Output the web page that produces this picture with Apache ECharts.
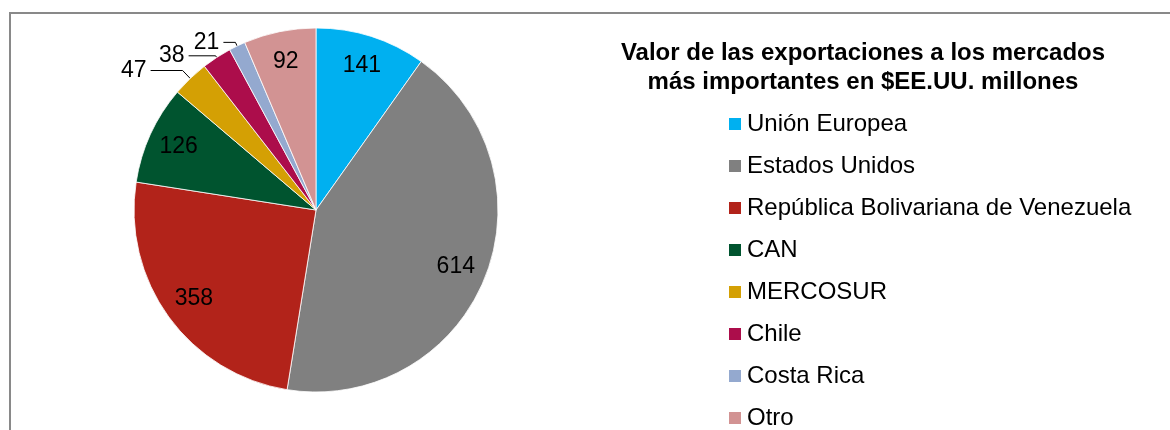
<!DOCTYPE html>
<html>
<head>
<meta charset="utf-8">
<script src="https://cdn.jsdelivr.net/npm/echarts@6/dist/echarts.min.js"></script>
<style>
  html, body { margin: 0; padding: 0; background: #fff; }
  #chart { width: 1170px; height: 430px; }
</style>
</head>
<body>
<div id="chart"></div>
<script>
// mercados y valores (millones de US$)
var mercados = ['Unión Europea', 'Estados Unidos', 'República Bolivariana de Venezuela', 'CAN', 'MERCOSUR', 'Chile', 'Costa Rica', 'Otro'];
var valores = [141, 614, 358, 126, 47, 38, 21, 92];
var colores = ['#00B0F0', '#808080', '#B2231A', '#00542F', '#D4A004', '#AC0D4B', '#94A9CF', '#D29393'];
// las porciones chicas llevan la etiqueta afuera con línea guía
var etiquetaAfuera = ['MERCOSUR', 'Chile', 'Costa Rica'];

// largo de las líneas guía (tramo radial, tramo horizontal)
var guias = {
  'MERCOSUR': [11, 32],
  'Chile': [2, 27],
  'Costa Rica': [4, 12]
};

var myChart = echarts.init(document.getElementById('chart'));

var fuente = 'Liberation Sans, Arial, sans-serif';

// pie visible, solo etiquetas externas
var datosPie = mercados.map(function (m, i) {
  var afuera = etiquetaAfuera.indexOf(m) >= 0;
  var item = {
    name: m,
    value: valores[i],
    itemStyle: { color: colores[i] },
    label: { show: afuera },
    labelLine: { show: afuera }
  };
  if (afuera) {
    item.labelLine.length = guias[m][0];
    item.labelLine.length2 = guias[m][1];
  }
  return item;
});

// anillo transparente para ubicar las etiquetas internas mas cerca del borde
var datosEtiquetas = mercados.map(function (m, i) {
  var afuera = etiquetaAfuera.indexOf(m) >= 0;
  return {
    value: valores[i],
    itemStyle: { color: 'rgba(0,0,0,0)' },
    label: { show: !afuera }
  };
});

var option = {
  backgroundColor: '#fff',
  animation: false,
  title: {
    text: 'Valor de las exportaciones a los mercados\nmás importantes en $EE.UU. millones',
    left: 858,
    top: 34,
    textAlign: 'center',
    textStyle: {
      fontFamily: fuente,
      fontSize: 24,
      fontWeight: 'bold',
      color: '#000',
      lineHeight: 29
    }
  },
  legend: {
    orient: 'vertical',
    left: 722,
    top: 107,
    height: 400,
    data: mercados,
    itemWidth: 14,
    itemHeight: 14,
    itemGap: 18,
    icon: 'rect',
    textStyle: {
      fontFamily: fuente,
      fontSize: 24,
      color: '#000'
    }
  },
  graphic: [{
    type: 'rect',
    silent: true,
    shape: { x: 10, y: 13, width: 1300, height: 600 },
    style: { fill: 'none', stroke: '#898989', lineWidth: 2 }
  }],
  series: [
    {
      name: 'Exportaciones',
      type: 'pie',
      center: [316, 210],
      radius: [0, 182],
      startAngle: 90,
      clockwise: true,
      avoidLabelOverlap: false,
      itemStyle: { borderColor: '#fff', borderWidth: 0.8 },
      label: {
        position: 'outside',
        formatter: '{c}',
        fontFamily: fuente,
        fontSize: 23,
        color: '#000',
        distanceToLabelLine: 4,
        padding: [0, 0, 12, 0]
      },
      labelLine: {
        length: 10,
        length2: 20,
        lineStyle: { color: '#000', width: 1 }
      },
      labelLayout: { hideOverlap: false },
      emphasis: { disabled: true },
      data: datosPie
    },
    {
      name: 'Etiquetas',
      type: 'pie',
      silent: true,
      center: [316, 210],
      radius: [114, 182],
      startAngle: 90,
      clockwise: true,
      label: {
        position: 'inside',
        formatter: '{c}',
        fontFamily: fuente,
        fontSize: 23,
        color: '#000'
      },
      labelLine: { show: false },
      emphasis: { disabled: true },
      data: datosEtiquetas
    }
  ]
};

myChart.setOption(option);
</script>
</body>
</html>
